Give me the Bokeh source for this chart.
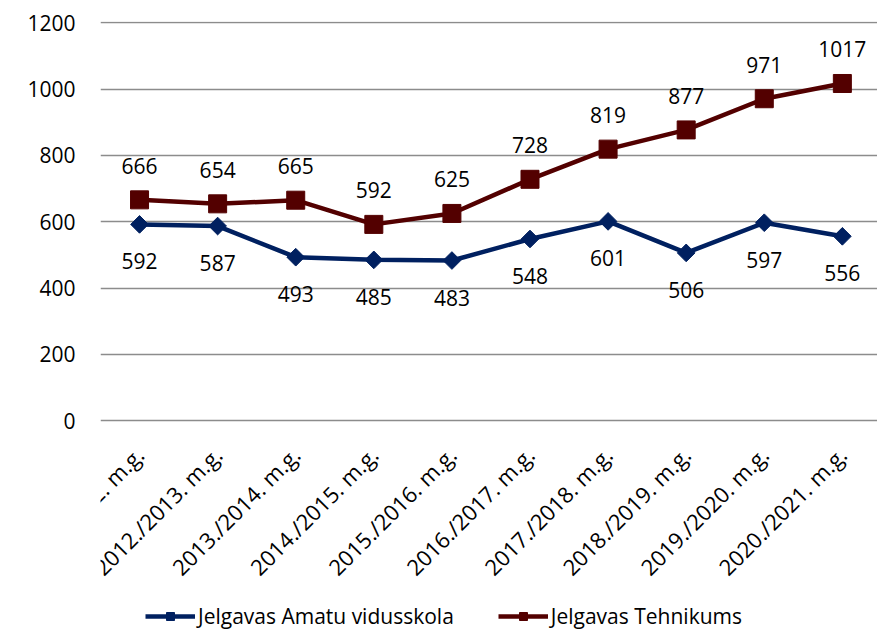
import math
from bokeh.plotting import figure
from bokeh.models import Range1d, FixedTicker, Legend, LegendItem, ColumnDataSource
from bokeh.core.properties import value
from bokeh.embed import file_html
from bokeh.resources import INLINE

categories = ["2011./2012. m.g.", "2012./2013. m.g.", "2013./2014. m.g.", "2014./2015. m.g.",
              "2015./2016. m.g.", "2016./2017. m.g.", "2017./2018. m.g.", "2018./2019. m.g.",
              "2019./2020. m.g.", "2020./2021. m.g."]
amatu = [592, 587, 493, 485, 483, 548, 601, 506, 597, 556]
tehnikums = [666, 654, 665, 592, 625, 728, 819, 877, 971, 1017]
y_ticks = [0, 200, 400, 600, 800, 1000, 1200]
series_names = ["Jelgavas Amatu vidusskola", "Jelgavas Tehnikums"]

BLUE = "#002060"
RED = "#530000"
FONT = "Open Sans"

xs = list(range(len(categories)))
src = ColumnDataSource(dict(x=xs, a=amatu, t=tehnikums,
                            at=[str(v) for v in amatu], tt=[str(v) for v in tehnikums]))

# frame extends below the zero line so the category labels and legend sit inside it
p = figure(frame_width=777, frame_height=609, output_backend="svg", toolbar_location=None,
           x_range=Range1d(-0.5, 9.45), y_range=Range1d(-633, 1204),
           min_border_left=100, min_border_right=0, min_border_top=21, min_border_bottom=0)
p.outline_line_color = None
p.background_fill_color = "white"

# y axis
p.yaxis.ticker = FixedTicker(ticks=y_ticks)
p.yaxis.axis_line_color = None
p.yaxis.major_tick_line_color = None
p.yaxis.minor_tick_line_color = None
p.yaxis.major_tick_out = 0
p.yaxis.major_tick_in = 0
p.yaxis.major_label_standoff = 25
p.yaxis.major_label_text_font = FONT
p.yaxis.major_label_text_font_size = "21px"
p.yaxis.major_label_text_color = "black"

# x axis, drawn at the zero line
p.xaxis.fixed_location = 0
p.xaxis.ticker = FixedTicker(ticks=xs)
p.xaxis.major_label_overrides = {i: c for i, c in zip(xs, categories)}
p.xaxis.major_label_orientation = math.pi / 4
p.xaxis.axis_line_color = None
p.xaxis.major_tick_line_color = None
p.xaxis.minor_tick_line_color = None
p.xaxis.major_tick_out = 0
p.xaxis.major_tick_in = 0
p.xaxis.major_label_standoff = 30
p.xaxis.major_label_text_font = FONT
p.xaxis.major_label_text_font_size = "22px"
p.xaxis.major_label_text_color = "black"

p.xgrid.grid_line_color = None
p.ygrid.ticker = FixedTicker(ticks=y_ticks)
p.ygrid.grid_line_color = "#8c8c8c"
p.ygrid.grid_line_width = 1.6

la = p.line("x", "a", source=src, line_color=BLUE, line_width=4.5)
ma = p.scatter("x", "a", source=src, marker="square", size=12.5, angle=math.pi / 4,
               fill_color=BLUE, line_color=BLUE)
lt = p.line("x", "t", source=src, line_color=RED, line_width=4.5)
mt = p.scatter("x", "t", source=src, marker="square", size=18,
               fill_color=RED, line_color=RED)

p.text("x", "t", text="tt", source=src, text_align="center", text_baseline="middle",
       y_offset=-34, text_font=value(FONT), text_font_size="21px", text_color="black")
p.text("x", "a", text="at", source=src, text_align="center", text_baseline="middle",
       y_offset=37, text_font=value(FONT), text_font_size="21px", text_color="black")

legend = Legend(items=[LegendItem(label=series_names[0], renderers=[la, ma]),
                       LegendItem(label=series_names[1], renderers=[lt, mt])],
                orientation="horizontal", location=(45, 0), border_line_color=None,
                background_fill_alpha=0, padding=0, spacing=44, glyph_width=50,
                glyph_height=20, label_standoff=3, margin=0,
                label_text_font=FONT, label_text_font_size="21px", label_text_color="black")
p.add_layout(legend, "center")

open("out.html", "w").write(file_html(p, INLINE))
